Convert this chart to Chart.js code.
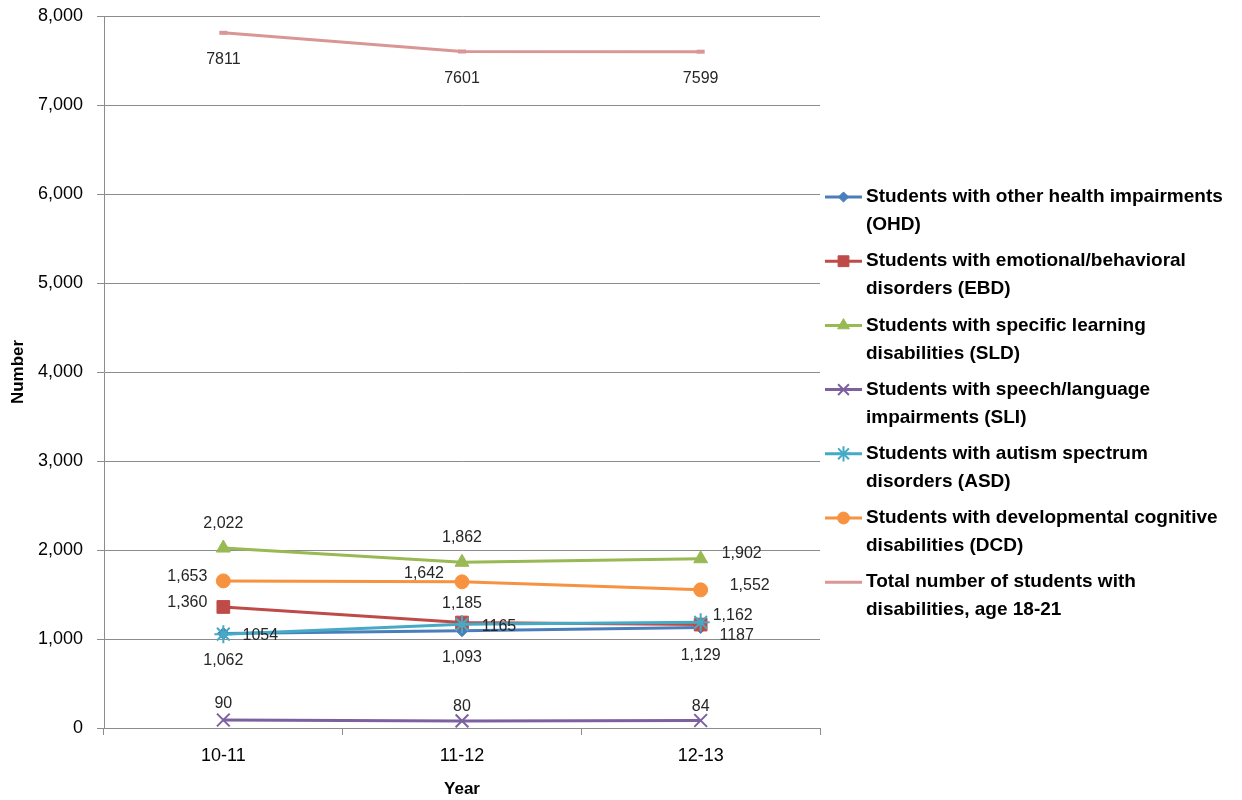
<!DOCTYPE html>
<html lang="en">
<head>
<meta charset="UTF-8">
<title>Students with disabilities, age 18-21</title>
<script src="https://cdn.jsdelivr.net/npm/chart.js"></script>
<style>
    html, body { margin: 0; padding: 0; background: #fff; }
    #wrap { position: relative; width: 1242px; height: 800px; }
</style>
</head>
<body>
<div id="wrap"><canvas id="chart"></canvas></div>
<script>
// data
var years = ['10-11', '11-12', '12-13'];
var ohd = [1062, 1093, 1129];
var ebd = [1360, 1185, 1162];
var sld = [2022, 1862, 1902];
var sli = [90, 80, 84];
var asd = [1054, 1165, 1187];
var dcd = [1653, 1642, 1552];
var total = [7811, 7601, 7599];

var seriesNames = [
    'Students with other health impairments (OHD)',
    'Students with emotional/behavioral disorders (EBD)',
    'Students with specific learning disabilities (SLD)',
    'Students with speech/language impairments (SLI)',
    'Students with autism spectrum disorders (ASD)',
    'Students with developmental cognitive disabilities (DCD)',
    'Total number of students with disabilities, age 18-21'
];
var legendLines = [
    ['Students with other health impairments', '(OHD)'],
    ['Students with emotional/behavioral', 'disorders (EBD)'],
    ['Students with specific learning', 'disabilities (SLD)'],
    ['Students with speech/language', 'impairments (SLI)'],
    ['Students with autism spectrum', 'disorders (ASD)'],
    ['Students with developmental cognitive', 'disabilities (DCD)'],
    ['Total number of students with', 'disabilities, age 18-21']
];
var seriesData = [ohd, ebd, sld, sli, asd, dcd, total];

// look of each series
var styles = [
    { color: '#4A7EBB', point: 'rectRot', radius: 6, bw: 1 },
    { color: '#BE4B48', point: 'rect', radius: 9, bw: 1 },
    { color: '#98B954', point: 'triangle', radius: 8, bw: 1 },
    { color: '#7D60A0', point: 'crossRot', radius: 9, bw: 2 },
    { color: '#46AAC5', point: 'star', radius: 9, bw: 2 },
    { color: '#F69240', point: 'circle', radius: 7, bw: 1 },
    { color: '#D99694', point: 'line', radius: 4, bw: 4 }
];
// where each value label sits relative to its point
var labelOffsets = [
    [[0, 27], [0, 27], [0, 28]],
    [[-36, -4], [0, -19], [32, -9]],
    [[0, -24], [0, -25], [41, -5]],
    [[0, -16], [0, -14], [0, -14]],
    [[37, 1], [37, 2], [36, 13]],
    [[-36, -4], [-38, -8], [49, -4]],
    [[0, 27], [0, 27], [0, 27]]
];
var commaLabels = [true, true, true, true, false, true, false];

var fontFamily = '"Liberation Sans", Arial, sans-serif';
var gridGray = '#8c8c8c';

var datasets = seriesData.map(function(d, i) {
    var s = styles[i];
    return {
        label: seriesNames[i],
        data: d,
        borderColor: s.color,
        backgroundColor: s.color,
        borderWidth: 3,
        pointStyle: s.point,
        pointRadius: s.radius,
        pointHoverRadius: s.radius,
        pointBorderWidth: s.bw,
        pointBackgroundColor: s.color,
        pointBorderColor: s.color,
        tension: 0,
        order: -i
    };
});

var valueLabels = {
    id: 'valueLabels',
    afterDatasetsDraw: function(chart) {
        var ctx = chart.ctx;
        ctx.save();
        ctx.font = '16px ' + fontFamily;
        ctx.fillStyle = '#262626';
        ctx.textAlign = 'center';
        ctx.textBaseline = 'middle';
        chart.data.datasets.forEach(function(ds, i) {
            var meta = chart.getDatasetMeta(i);
            meta.data.forEach(function(pt, j) {
                var v = ds.data[j];
                var txt = commaLabels[i] ? v.toLocaleString('en-US') : String(v);
                var off = labelOffsets[i][j];
                ctx.fillText(txt, pt.x + off[0], pt.y + off[1]);
            });
        });
        ctx.restore();
    }
};

var sideLegend = {
    id: 'sideLegend',
    afterDraw: function(chart) {
        var ctx = chart.ctx;
        var x0 = chart.chartArea.right + 5;
        var top = 197, step = 64.2, lineGap = 28;
        ctx.save();
        chart.data.datasets.forEach(function(ds, i) {
            var s = styles[i];
            var y = top + i * step;
            ctx.strokeStyle = s.color;
            ctx.fillStyle = s.color;
            ctx.lineWidth = 3;
            ctx.beginPath();
            ctx.moveTo(x0, y);
            ctx.lineTo(x0 + 37, y);
            ctx.stroke();
            if (s.point !== 'line' && Chart.helpers && Chart.helpers.drawPoint) {
                ctx.lineWidth = s.bw;
                Chart.helpers.drawPoint(ctx, {
                    pointStyle: s.point, rotation: 0,
                    radius: s.radius * 0.85, borderWidth: s.bw
                }, x0 + 18.5, y);
            }
            ctx.fillStyle = '#000';
            ctx.font = 'bold 19px ' + fontFamily;
            ctx.textAlign = 'left';
            ctx.textBaseline = 'middle';
            legendLines[i].forEach(function(t, k) {
                ctx.fillText(t, x0 + 41, y + k * lineGap);
            });
        });
        ctx.restore();
    }
};

new Chart(document.getElementById('chart').getContext('2d'), {
    type: 'line',
    data: { labels: years, datasets: datasets },
    options: {
        responsive: true,
        maintainAspectRatio: false,
        animation: false,
        layout: { padding: { left: 0, top: 16, right: 422, bottom: 0 } },
        plugins: {
            legend: { display: false },
            tooltip: { enabled: false }
        },
        scales: {
            x: {
                offset: true,
                grid: {
                    offset: true,
                    drawOnChartArea: false,
                    tickLength: 7,
                    color: gridGray
                },
                border: { display: true, color: gridGray, width: 1 },
                ticks: {
                    color: '#000',
                    padding: 10,
                    font: { family: fontFamily, size: 18 }
                },
                title: {
                    display: true,
                    text: 'Year',
                    color: '#000',
                    padding: { top: 0, bottom: 0 },
                    font: { family: fontFamily, size: 17, weight: 'bold' }
                },
                afterFit: function(s) { s.height = 72; }
            },
            y: {
                min: 0,
                max: 8000,
                grid: {
                    color: gridGray,
                    tickLength: 7
                },
                border: { display: true, color: gridGray, width: 1 },
                ticks: {
                    stepSize: 1000,
                    color: '#000',
                    padding: 14,
                    font: { family: fontFamily, size: 18 },
                    callback: function(v) { return v.toLocaleString('en-US'); }
                },
                title: {
                    display: true,
                    text: 'Number',
                    color: '#000',
                    padding: { top: 8, bottom: 0 },
                    font: { family: fontFamily, size: 17, weight: 'bold' }
                },
                afterFit: function(s) {
                    s.width = 104;
                    s.paddingTop = 0;
                    s.paddingBottom = 0;
                }
            }
        }
    },
    plugins: [valueLabels, sideLegend]
});
</script>
</body>
</html>
